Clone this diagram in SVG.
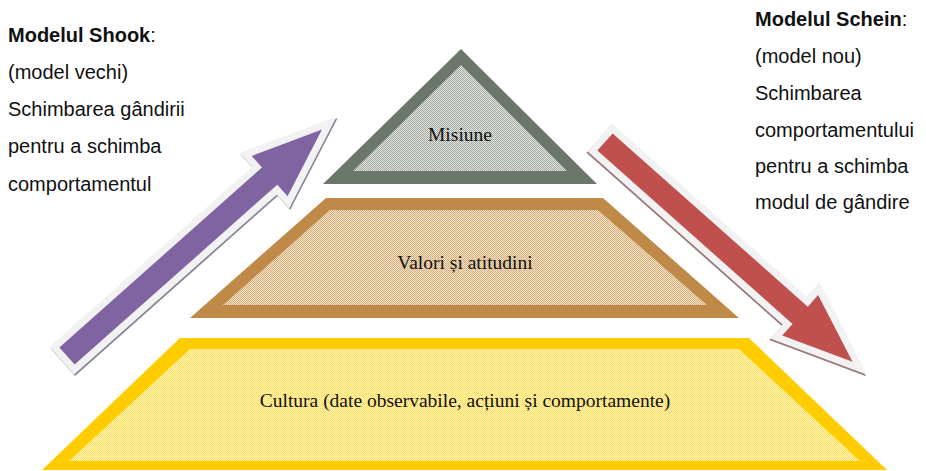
<svg xmlns="http://www.w3.org/2000/svg" width="926" height="471" viewBox="0 0 926 471">
  <style>
    .side { font-family: "Liberation Sans", Arial, sans-serif; font-size: 20px; fill: #111; }
    .side .b { font-weight: bold; }
    .lbl { font-family: "Liberation Serif", "Times New Roman", serif; font-size: 19.5px; fill: #111; text-anchor: middle; }
    .halo { fill: none; stroke: #F2F2F2; stroke-width: 14; stroke-linejoin: miter; }
  </style>
  <defs>
    <!-- fine dotted fills for the pyramid levels -->
    <pattern id="dotGray" width="2" height="2" patternUnits="userSpaceOnUse">
      <rect width="2" height="2" fill="#E3E6E3"/>
      <rect width="1" height="1" fill="#A0A8A0"/>
      <rect x="1" y="1" width="1" height="1" fill="#A0A8A0"/>
    </pattern>
    <pattern id="dotTan" width="2" height="2" patternUnits="userSpaceOnUse">
      <rect width="2" height="2" fill="#F5E3CB"/>
      <rect width="1" height="1" fill="#D4AD78"/>
      <rect x="1" y="1" width="1" height="1" fill="#D4AD78"/>
    </pattern>
    <pattern id="dotYellow" width="2" height="2" patternUnits="userSpaceOnUse">
      <rect width="2" height="2" fill="#FFF5C0"/>
      <rect width="1" height="1" fill="#FFDD55"/>
      <rect x="1" y="1" width="1" height="1" fill="#FFDD55"/>
    </pattern>
    <!-- block arrows along +x from the tail -->
    <polygon id="arrowShape" points="0,-11.5 271,-11.5 271,-27 341,0 271,27 271,11.5 0,11.5"/>
    <polygon id="arrowShape2" points="0,-11.5 261,-11.5 261,-27 331,0 261,27 261,11.5 0,11.5"/>
  </defs>

  <rect width="926" height="471" fill="#FFFFFF"/>

  <!-- side captions -->
  <g id="shook" class="side">
    <text x="8" y="42"><tspan class="b">Modelul Shook</tspan>:</text>
    <text x="8" y="79">(model vechi)</text>
    <text x="8" y="116">Schimbarea gândirii</text>
    <text x="8" y="153">pentru a schimba</text>
    <text x="8" y="191">comportamentul</text>
  </g>
  <g id="schein" class="side">
    <text x="755" y="26"><tspan class="b">Modelul Schein</tspan>:</text>
    <text x="755" y="63">(model nou)</text>
    <text x="755" y="100">Schimbarea</text>
    <text x="755" y="137">comportamentului</text>
    <text x="755" y="173">pentru a schimba</text>
    <text x="755" y="209">modul de gândire</text>
  </g>

  <!-- pyramid levels -->
  <g id="misiune">
    <polygon points="461,49 597,184 323,184" fill="#6C776C"/>
    <polygon points="461,65 567,171 353,171" fill="url(#dotGray)"/>
    <text class="lbl" x="460" y="141">Misiune</text>
  </g>
  <g id="valori">
    <polygon points="326,198 603,198 739,318 190,318" fill="#BF8A48"/>
    <polygon points="330,210 598,210 707,305 223,305" fill="url(#dotTan)"/>
    <text class="lbl" x="465" y="269">Valori și atitudini</text>
  </g>
  <g id="cultura">
    <polygon points="180,338 749,338 887,470 42,470" fill="#FFCC00"/>
    <polygon points="190,349 739,349 860,461 69,461" fill="url(#dotYellow)"/>
    <text class="lbl" x="465" y="407">Cultura (date observabile, acțiuni și comportamente)</text>
  </g>

  <!-- direction arrows: light halo with a thin drop shadow -->
  <g id="connectors">
    <g id="arrow-shook" transform="translate(67,356) rotate(-41.6)">
      <use href="#arrowShape" class="halo" transform="rotate(41.6) translate(1,1.5) rotate(-41.6)" style="stroke:#8A8598"/>
      <use href="#arrowShape" class="halo"/>
      <use href="#arrowShape" fill="#8064A2"/>
    </g>
    <g id="arrow-schein" transform="translate(605,142) rotate(41.6)">
      <use href="#arrowShape2" class="halo" transform="rotate(-41.6) translate(-1,1.5) rotate(41.6)" style="stroke:#9A7878"/>
      <use href="#arrowShape2" class="halo"/>
      <use href="#arrowShape2" fill="#C0504D"/>
    </g>
  </g>
</svg>
